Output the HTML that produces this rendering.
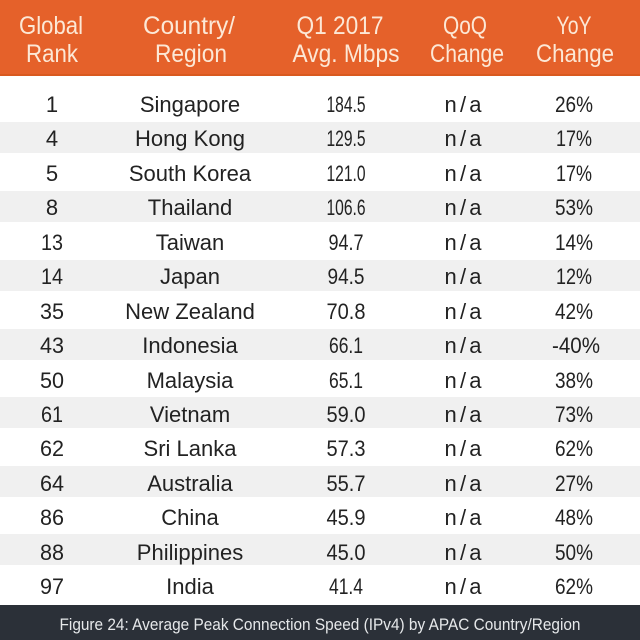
<!DOCTYPE html>
<html>
<head>
<meta charset="utf-8">
<style>
html,body{margin:0;padding:0;background:#fff;}
svg{display:block;}
text{font-family:"Liberation Sans",Arial,sans-serif;}
.h{fill:#FCE8D6;font-size:25px;text-anchor:middle;}
.b{fill:#222222;font-size:22px;text-anchor:middle;}
.f{fill:#E6E8EA;font-size:17px;text-anchor:middle;}
</style>
</head>
<body>
<svg width="640" height="640" viewBox="0 0 640 640" xmlns="http://www.w3.org/2000/svg">
<rect x="0" y="0" width="640" height="640" fill="#ffffff"/>
<rect x="0" y="0" width="640" height="76" fill="#E5612A"/>
<rect x="0" y="74" width="640" height="2" fill="#D9591F"/>
<!-- header -->
<text class="h" x="51" y="34" textLength="64" lengthAdjust="spacingAndGlyphs">Global</text>
<text class="h" x="52" y="62" textLength="52" lengthAdjust="spacingAndGlyphs">Rank</text>
<text class="h" x="189" y="34" textLength="92" lengthAdjust="spacingAndGlyphs">Country/</text>
<text class="h" x="191" y="62" textLength="72" lengthAdjust="spacingAndGlyphs">Region</text>
<text class="h" x="340" y="34" textLength="87" lengthAdjust="spacingAndGlyphs">Q1 2017</text>
<text class="h" x="346" y="62" textLength="107" lengthAdjust="spacingAndGlyphs">Avg. Mbps</text>
<text class="h" x="465" y="34" textLength="44" lengthAdjust="spacingAndGlyphs">QoQ</text>
<text class="h" x="467" y="62" textLength="74" lengthAdjust="spacingAndGlyphs">Change</text>
<text class="h" x="574" y="34" textLength="35" lengthAdjust="spacingAndGlyphs">YoY</text>
<text class="h" x="575" y="62" textLength="78" lengthAdjust="spacingAndGlyphs">Change</text>
<!-- stripes -->
<rect x="0" y="122" width="640" height="31" fill="#F0F0F0"/>
<rect x="0" y="191" width="640" height="31" fill="#F0F0F0"/>
<rect x="0" y="260" width="640" height="31" fill="#F0F0F0"/>
<rect x="0" y="329" width="640" height="31" fill="#F0F0F0"/>
<rect x="0" y="397" width="640" height="31" fill="#F0F0F0"/>
<rect x="0" y="466" width="640" height="31" fill="#F0F0F0"/>
<rect x="0" y="534" width="640" height="31" fill="#F0F0F0"/>
<!-- rows -->
<g class="rows">
<text class="b" x="52" y="112">1</text><text class="b" x="190" y="112">Singapore</text><text class="b" x="346" y="112" textLength="39" lengthAdjust="spacingAndGlyphs">184.5</text><text class="b" x="463" y="112" textLength="37" lengthAdjust="spacing">n/a</text><text class="b" x="574" y="112" textLength="38" lengthAdjust="spacingAndGlyphs">26%</text>
<text class="b" x="52" y="146">4</text><text class="b" x="190" y="146">Hong Kong</text><text class="b" x="346" y="146" textLength="39" lengthAdjust="spacingAndGlyphs">129.5</text><text class="b" x="463" y="146" textLength="37" lengthAdjust="spacing">n/a</text><text class="b" x="574" y="146" textLength="36" lengthAdjust="spacingAndGlyphs">17%</text>
<text class="b" x="52" y="181">5</text><text class="b" x="190" y="181">South Korea</text><text class="b" x="346" y="181" textLength="39" lengthAdjust="spacingAndGlyphs">121.0</text><text class="b" x="463" y="181" textLength="37" lengthAdjust="spacing">n/a</text><text class="b" x="574" y="181" textLength="36" lengthAdjust="spacingAndGlyphs">17%</text>
<text class="b" x="52" y="215">8</text><text class="b" x="190" y="215">Thailand</text><text class="b" x="346" y="215" textLength="39" lengthAdjust="spacingAndGlyphs">106.6</text><text class="b" x="463" y="215" textLength="37" lengthAdjust="spacing">n/a</text><text class="b" x="574" y="215" textLength="38" lengthAdjust="spacingAndGlyphs">53%</text>
<text class="b" x="52" y="250" textLength="22" lengthAdjust="spacingAndGlyphs">13</text><text class="b" x="190" y="250">Taiwan</text><text class="b" x="346" y="250" textLength="35" lengthAdjust="spacingAndGlyphs">94.7</text><text class="b" x="463" y="250" textLength="37" lengthAdjust="spacing">n/a</text><text class="b" x="574" y="250" textLength="38" lengthAdjust="spacingAndGlyphs">14%</text>
<text class="b" x="52" y="284" textLength="22" lengthAdjust="spacingAndGlyphs">14</text><text class="b" x="190" y="284">Japan</text><text class="b" x="346" y="284" textLength="37" lengthAdjust="spacingAndGlyphs">94.5</text><text class="b" x="463" y="284" textLength="37" lengthAdjust="spacing">n/a</text><text class="b" x="574" y="284" textLength="36" lengthAdjust="spacingAndGlyphs">12%</text>
<text class="b" x="52" y="319" textLength="24" lengthAdjust="spacingAndGlyphs">35</text><text class="b" x="190" y="319">New Zealand</text><text class="b" x="346" y="319" textLength="39" lengthAdjust="spacingAndGlyphs">70.8</text><text class="b" x="463" y="319" textLength="37" lengthAdjust="spacing">n/a</text><text class="b" x="574" y="319" textLength="38" lengthAdjust="spacingAndGlyphs">42%</text>
<text class="b" x="52" y="353" textLength="24" lengthAdjust="spacingAndGlyphs">43</text><text class="b" x="190" y="353">Indonesia</text><text class="b" x="346" y="353" textLength="34" lengthAdjust="spacingAndGlyphs">66.1</text><text class="b" x="463" y="353" textLength="37" lengthAdjust="spacing">n/a</text><text class="b" x="576" y="353" textLength="48" lengthAdjust="spacingAndGlyphs">-40%</text>
<text class="b" x="52" y="388" textLength="24" lengthAdjust="spacingAndGlyphs">50</text><text class="b" x="190" y="388">Malaysia</text><text class="b" x="346" y="388" textLength="34" lengthAdjust="spacingAndGlyphs">65.1</text><text class="b" x="463" y="388" textLength="37" lengthAdjust="spacing">n/a</text><text class="b" x="574" y="388" textLength="38" lengthAdjust="spacingAndGlyphs">38%</text>
<text class="b" x="52" y="422" textLength="22" lengthAdjust="spacingAndGlyphs">61</text><text class="b" x="190" y="422">Vietnam</text><text class="b" x="346" y="422" textLength="39" lengthAdjust="spacingAndGlyphs">59.0</text><text class="b" x="463" y="422" textLength="37" lengthAdjust="spacing">n/a</text><text class="b" x="574" y="422" textLength="38" lengthAdjust="spacingAndGlyphs">73%</text>
<text class="b" x="52" y="456" textLength="24" lengthAdjust="spacingAndGlyphs">62</text><text class="b" x="190" y="456">Sri Lanka</text><text class="b" x="346" y="456" textLength="39" lengthAdjust="spacingAndGlyphs">57.3</text><text class="b" x="463" y="456" textLength="37" lengthAdjust="spacing">n/a</text><text class="b" x="574" y="456" textLength="38" lengthAdjust="spacingAndGlyphs">62%</text>
<text class="b" x="52" y="491" textLength="24" lengthAdjust="spacingAndGlyphs">64</text><text class="b" x="190" y="491">Australia</text><text class="b" x="346" y="491" textLength="39" lengthAdjust="spacingAndGlyphs">55.7</text><text class="b" x="463" y="491" textLength="37" lengthAdjust="spacing">n/a</text><text class="b" x="574" y="491" textLength="38" lengthAdjust="spacingAndGlyphs">27%</text>
<text class="b" x="52" y="525" textLength="24" lengthAdjust="spacingAndGlyphs">86</text><text class="b" x="190" y="525">China</text><text class="b" x="346" y="525" textLength="39" lengthAdjust="spacingAndGlyphs">45.9</text><text class="b" x="463" y="525" textLength="37" lengthAdjust="spacing">n/a</text><text class="b" x="574" y="525" textLength="38" lengthAdjust="spacingAndGlyphs">48%</text>
<text class="b" x="52" y="560" textLength="24" lengthAdjust="spacingAndGlyphs">88</text><text class="b" x="190" y="560">Philippines</text><text class="b" x="346" y="560" textLength="39" lengthAdjust="spacingAndGlyphs">45.0</text><text class="b" x="463" y="560" textLength="37" lengthAdjust="spacing">n/a</text><text class="b" x="574" y="560" textLength="38" lengthAdjust="spacingAndGlyphs">50%</text>
<text class="b" x="52" y="594" textLength="24" lengthAdjust="spacingAndGlyphs">97</text><text class="b" x="190" y="594">India</text><text class="b" x="346" y="594" textLength="34" lengthAdjust="spacingAndGlyphs">41.4</text><text class="b" x="463" y="594" textLength="37" lengthAdjust="spacing">n/a</text><text class="b" x="574" y="594" textLength="38" lengthAdjust="spacingAndGlyphs">62%</text>
</g>
<!-- footer -->
<rect x="0" y="605" width="640" height="35" fill="#2B3038"/>
<text class="f" x="320" y="630" textLength="521" lengthAdjust="spacingAndGlyphs">Figure 24: Average Peak Connection Speed (IPv4) by APAC Country/Region</text>
</svg>
</body>
</html>
